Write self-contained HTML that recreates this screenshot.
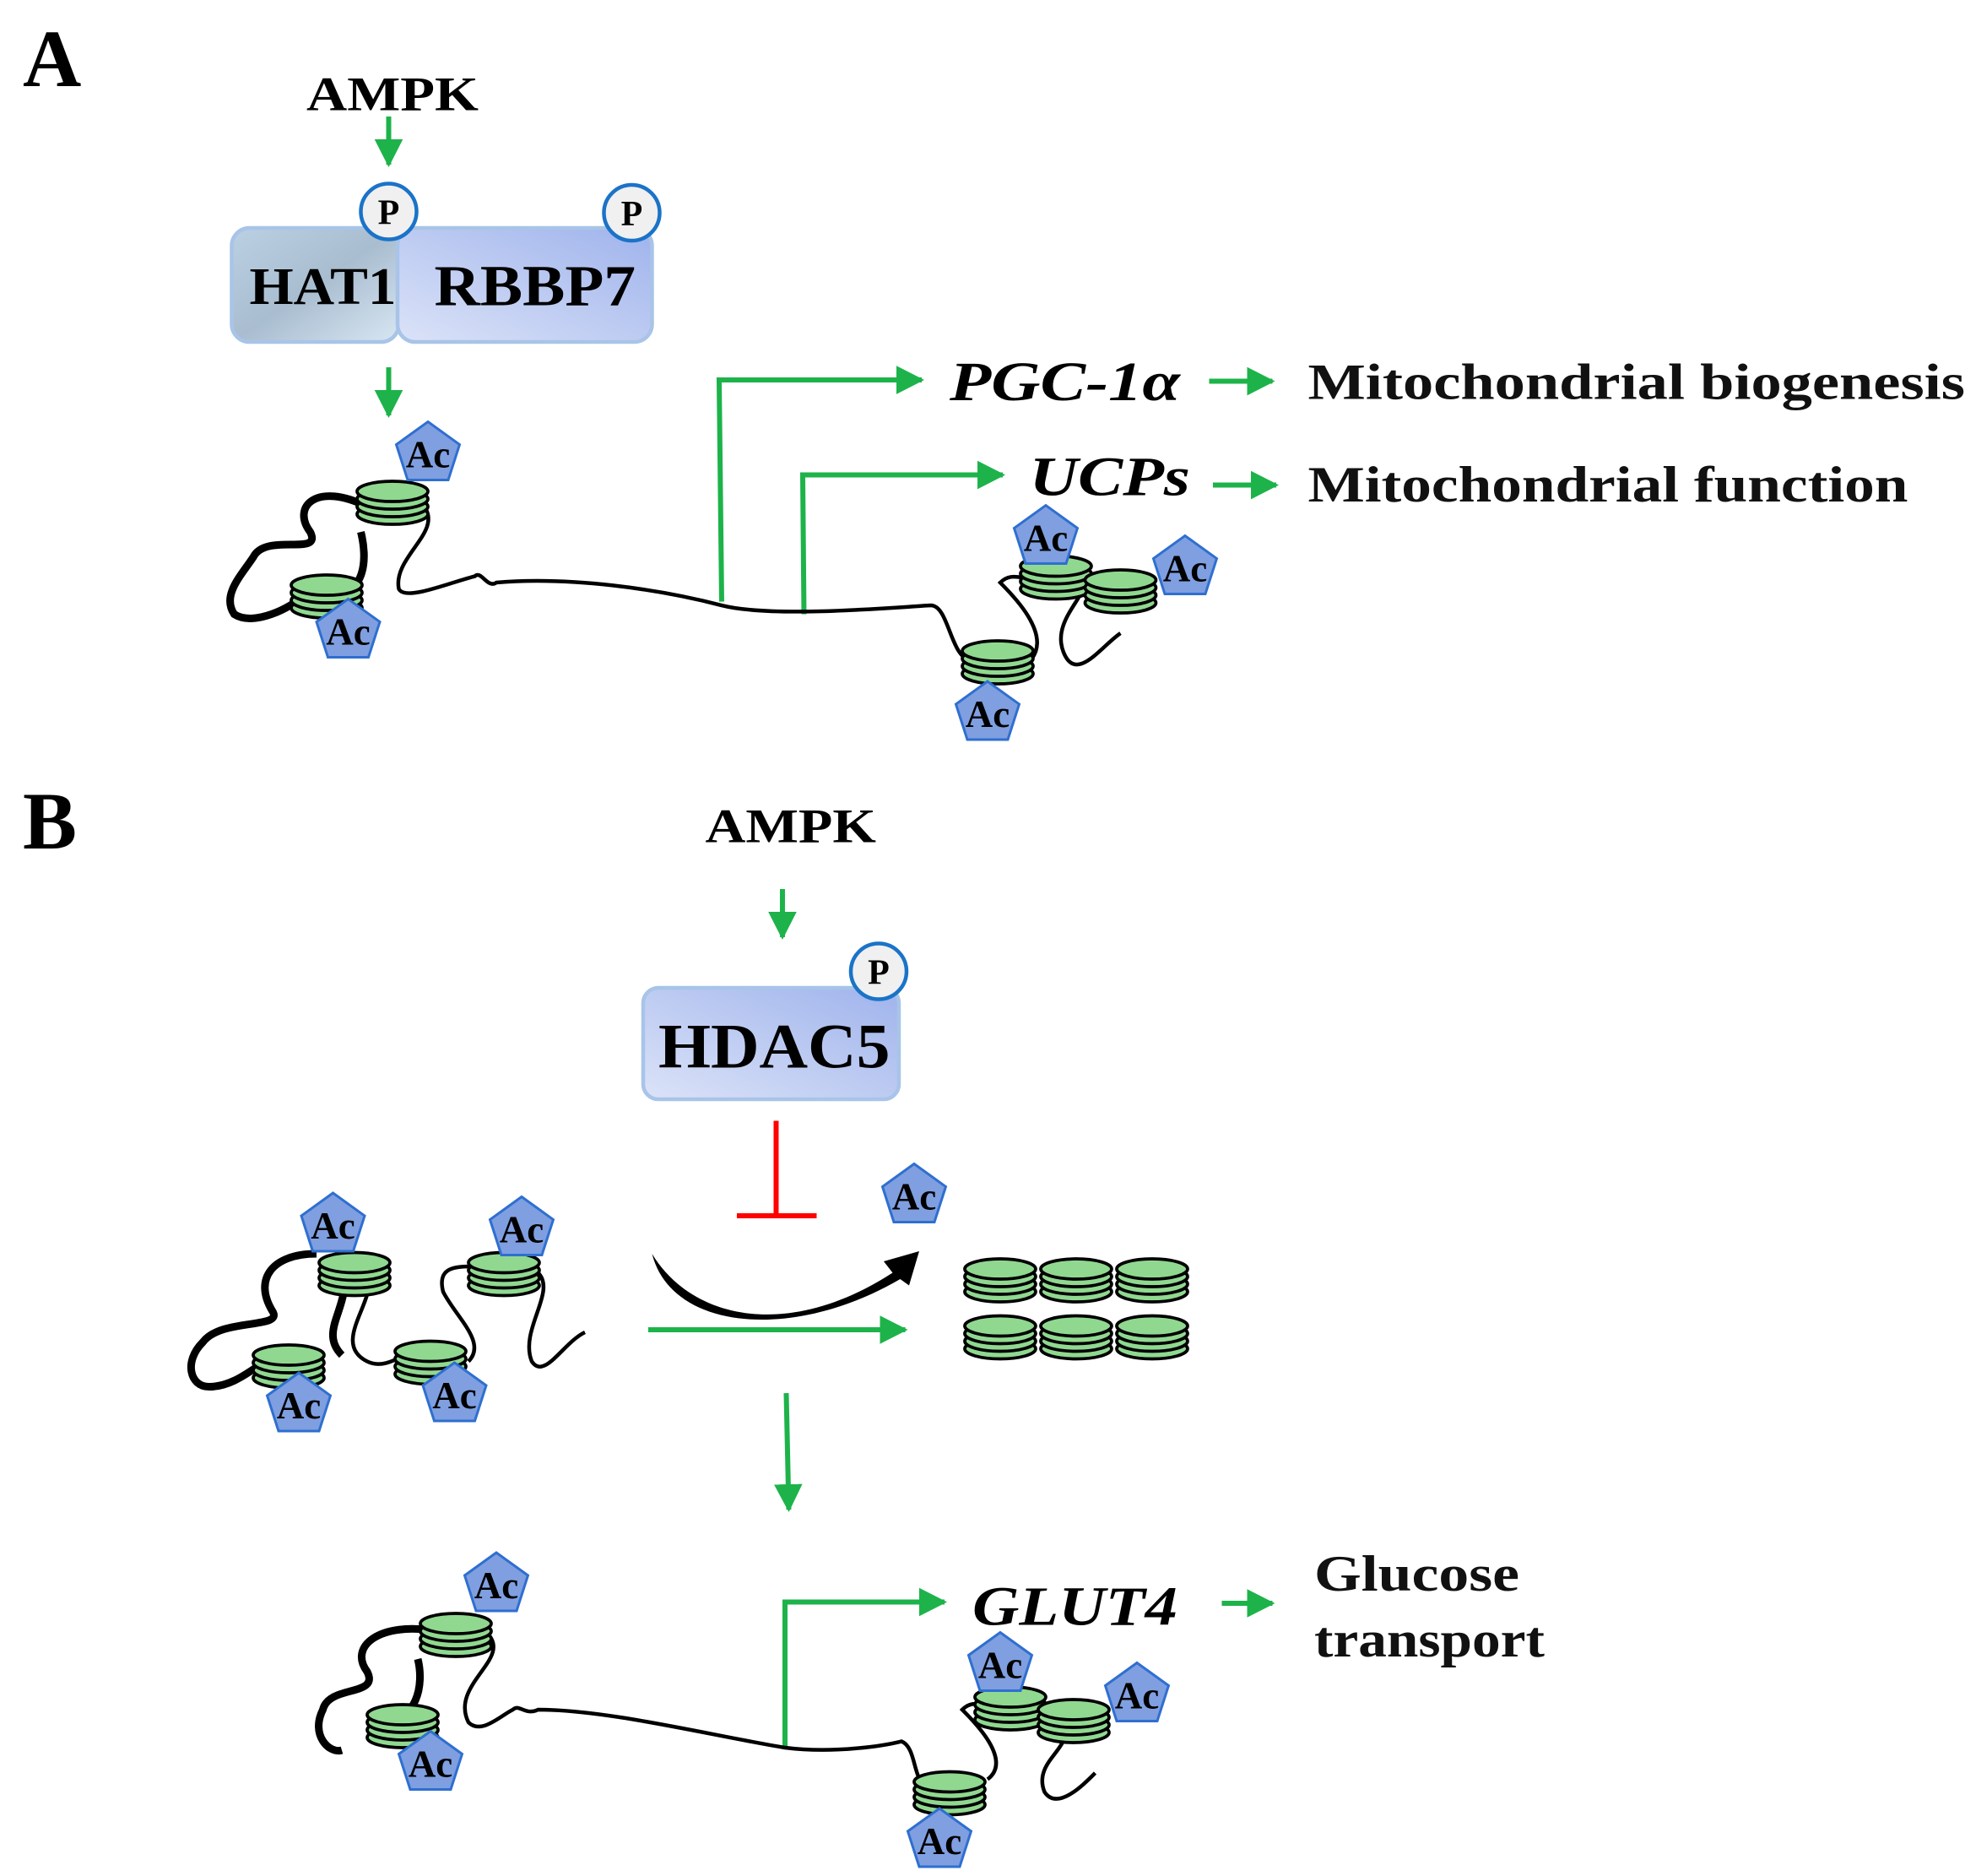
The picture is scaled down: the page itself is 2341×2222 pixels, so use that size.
<!DOCTYPE html>
<html><head><meta charset="utf-8"><style>html,body{margin:0;padding:0;background:#fff}svg{display:block}</style></head>
<body>
<svg width="2341" height="2222" viewBox="0 0 1560.7 1481.3" xmlns="http://www.w3.org/2000/svg" font-family="'Liberation Serif', serif">
<defs>
<marker id="ga" markerWidth="8" markerHeight="8" refX="5" refY="4" orient="auto" markerUnits="strokeWidth"><path d="M0,1.2 L5.5,4 L0,6.8 z" fill="#1db34a"/></marker>
<linearGradient id="g1" x1="0" y1="0" x2="1" y2="1"><stop offset="0" stop-color="#bcd0e4"/><stop offset="0.5" stop-color="#a9bdd0"/><stop offset="1" stop-color="#d8e6f2"/></linearGradient>
<linearGradient id="g2" x1="0" y1="1" x2="1" y2="0"><stop offset="0" stop-color="#dbe3f8"/><stop offset="1" stop-color="#9fb3ec"/></linearGradient>
<g id="nuc"><ellipse cx="0" cy="10" rx="28" ry="8" fill="#90d890" stroke="#000" stroke-width="2.5"/><ellipse cx="0" cy="4" rx="28" ry="8" fill="#90d890" stroke="#000" stroke-width="2.5"/><ellipse cx="0" cy="-2" rx="28" ry="8" fill="#90d890" stroke="#000" stroke-width="2.5"/><ellipse cx="0" cy="-8" rx="28" ry="8" fill="#90d890" stroke="#000" stroke-width="2.5"/></g>
<polygon id="pent" points="0,-24 25,-6 16,22 -16,22 -25,-6" fill="#7f9fe0" stroke="#2f6fd0" stroke-width="2"/>
<g id="P"><circle r="22" fill="#f0f0f0" stroke="#1a73c8" stroke-width="3"/><text y="10" text-anchor="middle" font-size="28" font-weight="bold">P</text></g>
</defs>
<g fill="#000">
<text x="18" y="68" font-size="64" font-weight="bold">A</text>
<text x="18" y="670" font-size="64" font-weight="bold">B</text>
<text x="242" y="87" font-size="38" font-weight="bold" textLength="136" lengthAdjust="spacingAndGlyphs">AMPK</text>
<text x="557" y="665" font-size="38" font-weight="bold" textLength="135" lengthAdjust="spacingAndGlyphs">AMPK</text>
</g>
<g stroke="#1db34a" stroke-width="4" fill="none" marker-end="url(#ga)">
<line x1="307" y1="92" x2="307" y2="130"/>
<line x1="307" y1="290" x2="307" y2="328"/>
<polyline points="570,475 568,300 728,300"/>
<polyline points="635,485 634,375 792,375"/>
<line x1="955" y1="301" x2="1005" y2="301"/>
<line x1="958" y1="383" x2="1008" y2="383"/>
<line x1="618" y1="702" x2="618" y2="740"/>
<line x1="512" y1="1050" x2="715" y2="1050"/>
<line x1="621" y1="1100" x2="623" y2="1192"/>
<polyline points="620,1380 620,1265 746,1265"/>
<line x1="965" y1="1266" x2="1005" y2="1266"/>
</g>
<rect x="183" y="180" width="132" height="90" rx="14" fill="url(#g1)" stroke="#a8c4e8" stroke-width="3"/>
<rect x="314" y="180" width="201" height="90" rx="14" fill="url(#g2)" stroke="#a8c4e8" stroke-width="3"/>
<text x="197" y="240" font-size="42" font-weight="bold" textLength="116" lengthAdjust="spacingAndGlyphs">HAT1</text>
<text x="343" y="241" font-size="46" font-weight="bold" textLength="159" lengthAdjust="spacingAndGlyphs">RBBP7</text>
<use href="#P" x="307" y="167"/><use href="#P" x="499" y="168"/>
<rect x="508" y="780" width="202" height="88" rx="12" fill="url(#g2)" stroke="#a8c4e8" stroke-width="3"/>
<text x="520" y="843" font-size="50" font-weight="bold" textLength="183" lengthAdjust="spacingAndGlyphs">HDAC5</text>
<use href="#P" x="694" y="767"/>
<g font-size="44" font-style="italic" font-weight="bold">
<text x="750" y="316" textLength="182" lengthAdjust="spacingAndGlyphs">PGC-1α</text>
<text x="813" y="391" textLength="127" lengthAdjust="spacingAndGlyphs">UCPs</text>
<text x="768" y="1283" textLength="162" lengthAdjust="spacingAndGlyphs">GLUT4</text>
</g>
<g font-size="40" font-weight="bold" fill="#111">
<text x="1033" y="315" textLength="519" lengthAdjust="spacingAndGlyphs">Mitochondrial biogenesis</text>
<text x="1033" y="396" textLength="474" lengthAdjust="spacingAndGlyphs">Mitochondrial function</text>
<text x="1038" y="1256" textLength="162" lengthAdjust="spacingAndGlyphs">Glucose</text>
<text x="1038" y="1308" textLength="182" lengthAdjust="spacingAndGlyphs">transport</text>
</g>
<g stroke="#f00" stroke-width="4"><line x1="613" y1="885" x2="613" y2="960"/><line x1="582" y1="960" x2="645" y2="960"/></g>
<path d="M515,990 C545,1040 620,1060 705,1005 L698,996 L726,988 L718,1015 L711,1010 C625,1060 530,1050 515,990 Z" fill="#000"/>
<g>
<use href="#nuc" x="790" y="1010"/><use href="#nuc" x="850" y="1010"/><use href="#nuc" x="910" y="1010"/>
<use href="#nuc" x="790" y="1055"/><use href="#nuc" x="850" y="1055"/><use href="#nuc" x="910" y="1055"/>
</g>
<g fill="none" stroke="#000">
<path d="M290,400 C250,380 230,400 245,420 C255,440 210,420 200,440 C190,455 175,470 185,485 C200,495 230,480 240,470" stroke-width="6"/>
<path d="M260,470 C290,470 290,440 285,420" stroke-width="6"/>
<path d="M335,400 C350,420 310,440 315,465 C320,475 355,460 375,455 C380,450 385,465 392,460 C450,455 520,465 570,478 C610,488 700,480 735,478 C750,478 750,520 768,522" stroke-width="3"/>
<path d="M815,520 C830,500 800,470 790,460 C800,450 810,460 820,455 M855,460 C860,470 830,490 840,515 C850,540 870,510 885,500" stroke-width="3"/>
</g>
<use href="#nuc" x="310" y="396"/><use href="#nuc" x="258" y="470"/>
<use href="#nuc" x="834" y="455"/><use href="#nuc" x="885" y="466"/><use href="#nuc" x="788" y="522"/>
<g fill="none" stroke="#000">
<path d="M250,990 C215,990 200,1010 215,1035 C225,1050 175,1040 160,1060 C145,1075 150,1095 165,1095 C185,1095 200,1080 210,1075" stroke-width="6"/>
<path d="M270,1000 C280,1030 250,1050 270,1070" stroke-width="6"/>
<path d="M290,1005 C300,1025 260,1060 290,1075 C300,1080 310,1075 320,1070 M370,1075 C385,1060 360,1040 350,1020 C345,1000 360,1000 375,1000 M425,1005 C440,1020 410,1050 420,1075 C430,1090 445,1060 462,1052" stroke-width="3"/>
</g>
<use href="#nuc" x="280" y="1005"/><use href="#nuc" x="228" y="1078"/><use href="#nuc" x="398" y="1005"/><use href="#nuc" x="340" y="1075"/>
<g fill="none" stroke="#000">
<path d="M345,1288 C300,1280 275,1300 290,1320 C300,1340 260,1330 255,1350 C245,1370 260,1385 270,1382" stroke-width="6"/>
<path d="M300,1360 C330,1360 335,1330 330,1310" stroke-width="6"/>
<path d="M385,1290 C405,1310 355,1330 370,1360 C380,1370 395,1355 405,1350 C410,1345 415,1355 425,1350 C480,1350 560,1370 620,1380 C660,1385 700,1378 712,1375 C725,1380 720,1410 735,1412" stroke-width="3"/>
<path d="M780,1405 C800,1390 770,1360 760,1350 C770,1340 780,1350 790,1345 M840,1360 C850,1380 815,1390 825,1415 C835,1430 855,1410 865,1400" stroke-width="3"/>
</g>
<use href="#nuc" x="360" y="1290"/><use href="#nuc" x="318" y="1362"/>
<use href="#nuc" x="798" y="1348"/><use href="#nuc" x="848" y="1358"/><use href="#nuc" x="750" y="1415"/>
<g font-size="30" font-weight="bold" text-anchor="middle">
<use href="#pent" x="338" y="357"/><text x="338" y="369">Ac</text>
<use href="#pent" x="275" y="497"/><text x="275" y="509">Ac</text>
<use href="#pent" x="826" y="423"/><text x="826" y="435">Ac</text>
<use href="#pent" x="936" y="447"/><text x="936" y="459">Ac</text>
<use href="#pent" x="780" y="562"/><text x="780" y="574">Ac</text>
<use href="#pent" x="722" y="943"/><text x="722" y="955">Ac</text>
<use href="#pent" x="263" y="966"/><text x="263" y="978">Ac</text>
<use href="#pent" x="412" y="969"/><text x="412" y="981">Ac</text>
<use href="#pent" x="236" y="1108"/><text x="236" y="1120">Ac</text>
<use href="#pent" x="359" y="1100"/><text x="359" y="1112">Ac</text>
<use href="#pent" x="392" y="1250"/><text x="392" y="1262">Ac</text>
<use href="#pent" x="340" y="1391"/><text x="340" y="1403">Ac</text>
<use href="#pent" x="790" y="1313"/><text x="790" y="1325">Ac</text>
<use href="#pent" x="898" y="1337"/><text x="898" y="1349">Ac</text>
<use href="#pent" x="742" y="1452"/><text x="742" y="1464">Ac</text>
</g>
</svg>
</body></html>
